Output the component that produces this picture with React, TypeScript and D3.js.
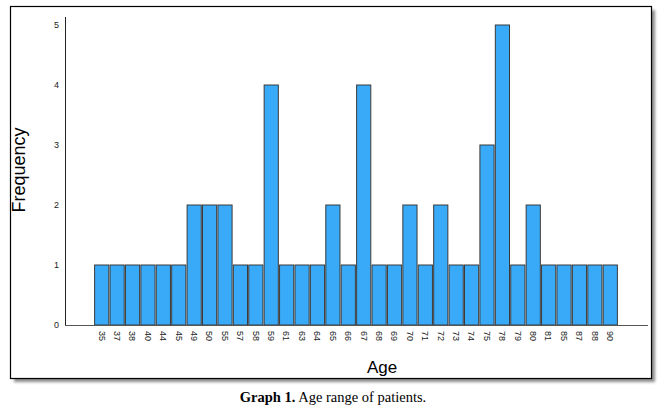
import * as d3 from 'd3'
import { useMemo } from 'react'

// ages seen in the sample and how many patients had each one
const ages = [
    '35', '37', '38', '40', '44', '45', '49', '50', '55', '57', '58', '59',
    '61', '63', '64', '65', '66', '67', '68', '69', '70', '71', '72', '73',
    '74', '75', '78', '79', '80', '81', '85', '87', '88', '90'
]
const counts = [
    1, 1, 1, 1, 1, 1, 2, 2, 2, 1, 1, 4,
    1, 1, 1, 2, 1, 4, 1, 1, 2, 1, 2, 1,
    1, 3, 5, 1, 2, 1, 1, 1, 1, 1
]
const yTicks = [0, 1, 2, 3, 4, 5]

const W = 664
const H = 408

const App = () => {
    const x = useMemo(() => {
        return d3
            .scaleBand()
            .domain(ages)
            .range([94, 618])
            .paddingInner(0.08)
            .paddingOuter(0.04)
    }, [])

    const y = useMemo(() => {
        return d3.scaleLinear().domain([0, 5]).range([325, 25])
    }, [])

    const bars = ages.map((a, i) => (
        <rect
            key={a}
            x={x(a)}
            y={y(counts[i])}
            width={x.bandwidth()}
            height={y(0) - y(counts[i])}
            fill="#38aaf7"
            stroke="#3a3a3a"
            strokeWidth={1}
        />
    ))

    const xLabels = ages.map(a => {
        const cx = (x(a) ?? 0) + x.bandwidth() / 2
        return (
            <text
                key={a}
                transform={`translate(${cx},${y(0) + 6}) rotate(90)`}
                dy="0.35em"
                fontSize={9}
                fill="#222"
            >
                {a}
            </text>
        )
    })

    const yLabels = yTicks.map(t => (
        <text key={t} x={59} y={y(t)} dy="0.35em" textAnchor="end" fontSize={9} fill="#222">
            {t}
        </text>
    ))

    return (
        <div style={{ position: 'absolute', left: 0, top: 0 }}>
            <svg width={W} height={H} style={{ display: 'block' }} fontFamily="Arial, 'Liberation Sans', sans-serif">
                <defs>
                    <filter id="shadow" x="-5%" y="-5%" width="110%" height="110%">
                        <feGaussianBlur stdDeviation="1.8" />
                    </filter>
                </defs>
                <rect width={W} height={H} fill="#fff" />
                <rect x={14} y={10} width={641} height={372} fill="#8a8a8a" filter="url(#shadow)" />
                <rect x={10.5} y={6.5} width={641} height={372} fill="#fff" stroke="#000" strokeWidth={1.2} />

                {bars}

                <line x1={65.5} x2={65.5} y1={17} y2={y(0)} stroke="#222" />
                <line x1={65} x2={648} y1={y(0) + 0.5} y2={y(0) + 0.5} stroke="#555" />

                {yLabels}
                {xLabels}

                <text transform="translate(25,170) rotate(-90)" textAnchor="middle" fontSize={18} fill="#000">
                    Frequency
                </text>
                <text x={382} y={373} textAnchor="middle" fontSize={17} fill="#000">
                    Age
                </text>

                <text x={333} y={402} textAnchor="middle" fontSize={14.5} fontFamily="'Liberation Serif', 'Times New Roman', serif" fill="#000">
                    <tspan fontWeight="bold">Graph 1.</tspan> Age range of patients.
                </text>
            </svg>
        </div>
    )
}

export default App
